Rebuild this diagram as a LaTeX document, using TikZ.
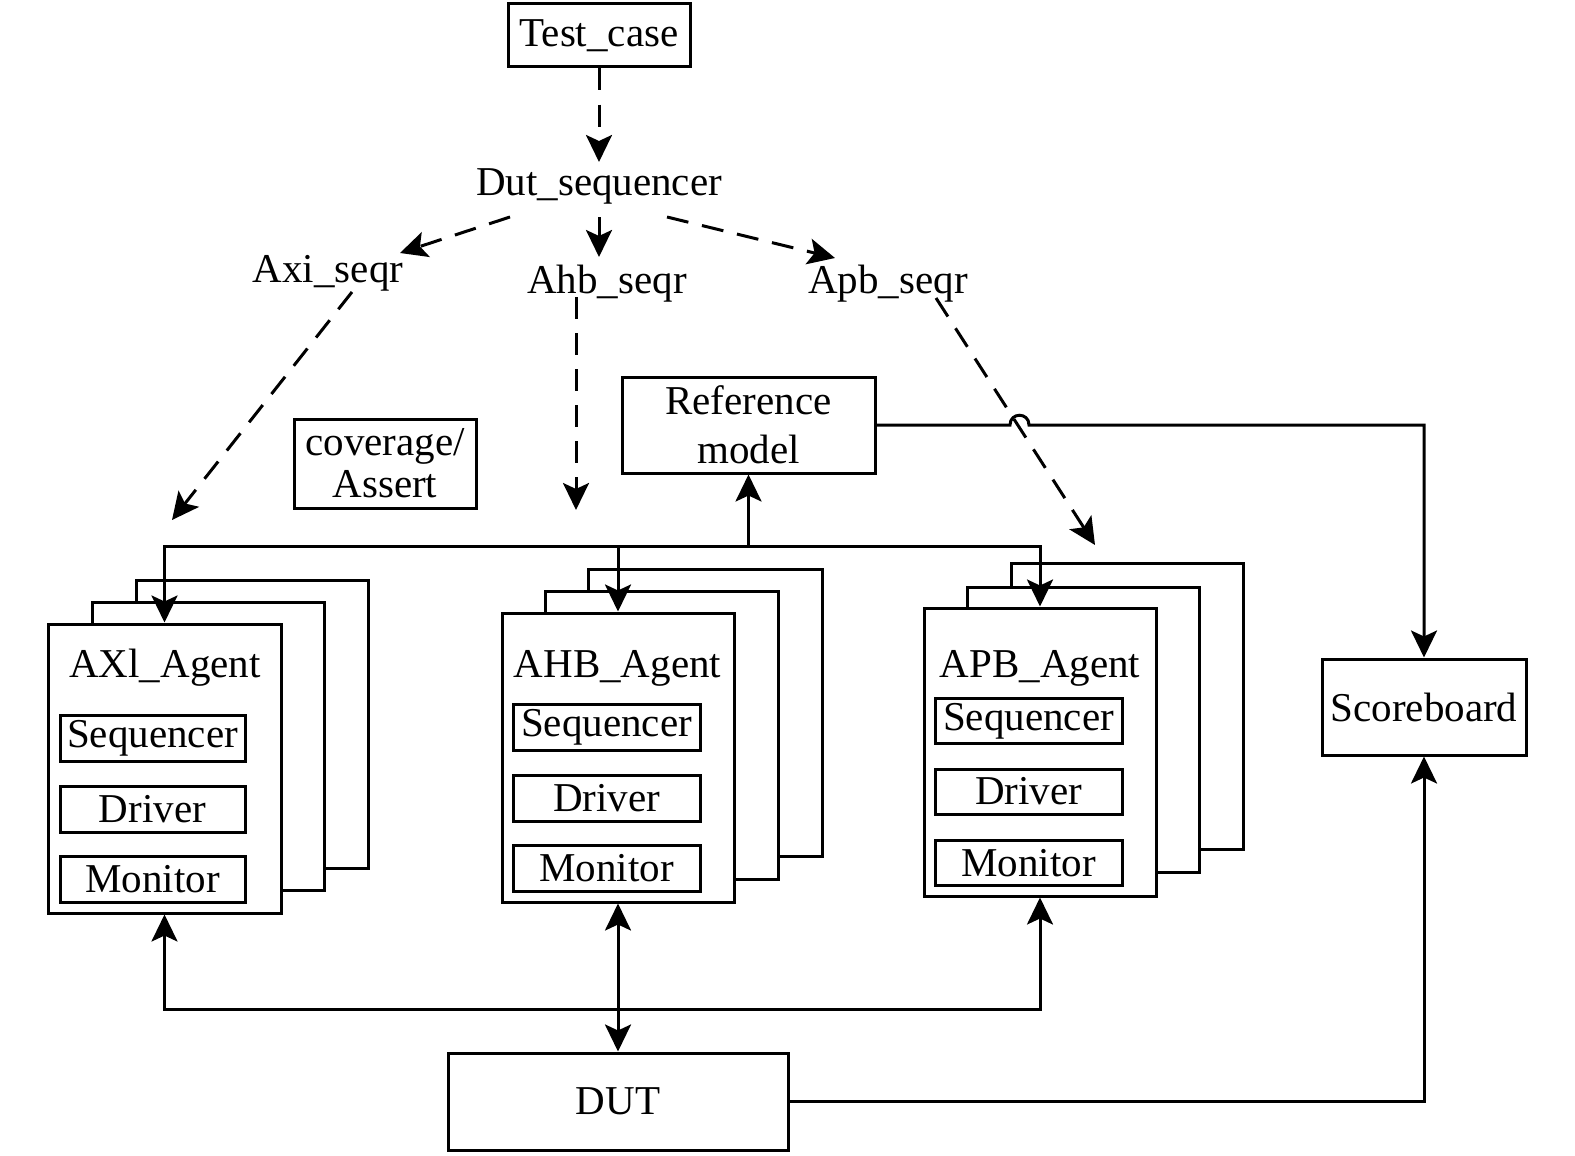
\documentclass[tikz,border=0pt]{standalone}
\usepackage{fontspec}
\setmainfont{Liberation Serif}
\usetikzlibrary{arrows.meta}
\begin{document}
\begin{tikzpicture}[x=1pt,y=-1pt,
  line width=3pt, line join=miter,
  font=\fontsize{41}{49}\selectfont,
  box/.style={draw,line width=3pt,inner sep=0pt,align=center},
  txt/.style={inner sep=0pt,anchor=base},
  tip/.style={-{Stealth[length=27pt,width=26pt,inset=6pt]}},
  dtip/.style={{Stealth[length=27pt,width=26pt,inset=6pt]}-{Stealth[length=27pt,width=26pt,inset=6pt]}},
  dsh/.style={dash pattern=on 22pt off 14pt}
]
\useasboundingbox (0,0) rectangle (1575,1156);

% top
\node[box,minimum width=182,minimum height=63] (tc) at (599,35.5) {Test\_case};
\node[txt] (ds) at (599,195) {Dut\_sequencer};
\node[txt] (axs) at (328,282) {Axi\_seqr};
\node[txt] (ahs) at (607,293) {Ahb\_seqr};
\node[txt] (aps) at (888,293) {Apb\_seqr};

\coordinate (dsT) at (599,162);
\coordinate (dsL) at (510,217);
\coordinate (dsM) at (599,217);
\coordinate (dsR) at (667,217);
\coordinate (axsT) at (400,253);
\coordinate (ahsT) at (599,257);
\coordinate (apsT) at (835,258);
\coordinate (axsB) at (352,292);
\coordinate (ahsB) at (576,297);
\coordinate (apsB) at (936,298);
\coordinate (axE) at (172,520);
\coordinate (ahE) at (576,510);
\coordinate (apE) at (1095,545);

\draw[dsh,tip] (tc.south) -- (dsT);
\draw[dsh,tip] (dsL) -- (axsT);
\draw[tip] (dsM) -- (ahsT);
\draw[dsh,tip] (dsR) -- (apsT);
\draw[dsh,tip] (axsB) -- (axE);
\draw[dsh,tip] (ahsB) -- (ahE);
\draw[dsh,tip] (apsB) -- (apE);

% reference model, coverage
\node[box,minimum width=253,minimum height=96] (ref) at (748.5,425) {Reference\\model};
\node[box,minimum width=182,minimum height=89,font=\fontsize{41}{42}\selectfont] (cov) at (385,463.5) {coverage/\\Assert};

% scoreboard, DUT
\node[box,minimum width=204,minimum height=96] (sb) at (1424,707) {Scoreboard};
\node[box,minimum width=340,minimum height=97] (dut) at (618,1101.5) {DUT};

% AXI agent
\draw (92,624) -- (92,602) -- (324,602) -- (324,890) -- (281,890);
\draw (136,602) -- (136,580) -- (368,580) -- (368,868) -- (324,868);
\node[box,minimum width=233,minimum height=289,fill=white] (axi) at (164.5,768.5) {};
\node[txt] (axil) at (165,677) {AXl\_Agent};
\node[box,minimum width=185,minimum height=46] (axseq) at (152.5,738) {Sequencer};
\node[box,minimum width=185,minimum height=46] (axdrv) at (152.5,809) {Driver};
\node[box,minimum width=185,minimum height=46] (axmon) at (152.5,879) {Monitor};

% AHB agent
\draw (545,613) -- (545,591) -- (778,591) -- (778,879) -- (734,879);
\draw (588,591) -- (588,569) -- (822,569) -- (822,856) -- (778,856);
\node[box,minimum width=232,minimum height=289,fill=white] (ahb) at (618,757.5) {};
\node[txt] (ahbl) at (617.5,677) {AHB\_Agent};
\node[box,minimum width=187,minimum height=46] (ahseq) at (606.5,727) {Sequencer};
\node[box,minimum width=187,minimum height=46] (ahdrv) at (606.5,798) {Driver};
\node[box,minimum width=187,minimum height=46] (ahmon) at (606.5,868) {Monitor};

% APB agent
\draw (967,608) -- (967,587) -- (1199,587) -- (1199,872) -- (1156,872);
\draw (1011,587) -- (1011,563) -- (1243,563) -- (1243,849) -- (1199,849);
\node[box,minimum width=232,minimum height=288,fill=white] (apb) at (1040,752) {};
\node[txt] (apbl) at (1040,677) {APB\_Agent};
\node[box,minimum width=187,minimum height=45] (apseq) at (1028.5,721) {Sequencer};
\node[box,minimum width=187,minimum height=45] (apdrv) at (1028.5,791.5) {Driver};
\node[box,minimum width=187,minimum height=45] (apmon) at (1028.5,863) {Monitor};

% top bus
\coordinate (bus) at (748.5,546);
\draw[dtip] (axi.north) -- (axi.north |- bus) -- (apb.north |- bus) -- (apb.north);
\draw[tip] (ahb.north |- bus) -- (ahb.north);
\draw[tip] (bus) -- (ref.south);

% bottom bus
\coordinate (bbus) at (618,1009);
\draw[dtip] (axi.south) -- (axi.south |- bbus) -- (apb.south |- bbus) -- (apb.south);
\draw[dtip] (ahb.south) -- (dut.north);

% to scoreboard
\draw[tip] (dut.east) -| (sb.south);
\draw[tip] (ref.east) -- (1010,425) .. controls (1010,412) and (1029,412) .. (1029,425) -| (sb.north);
\end{tikzpicture}
\end{document}
